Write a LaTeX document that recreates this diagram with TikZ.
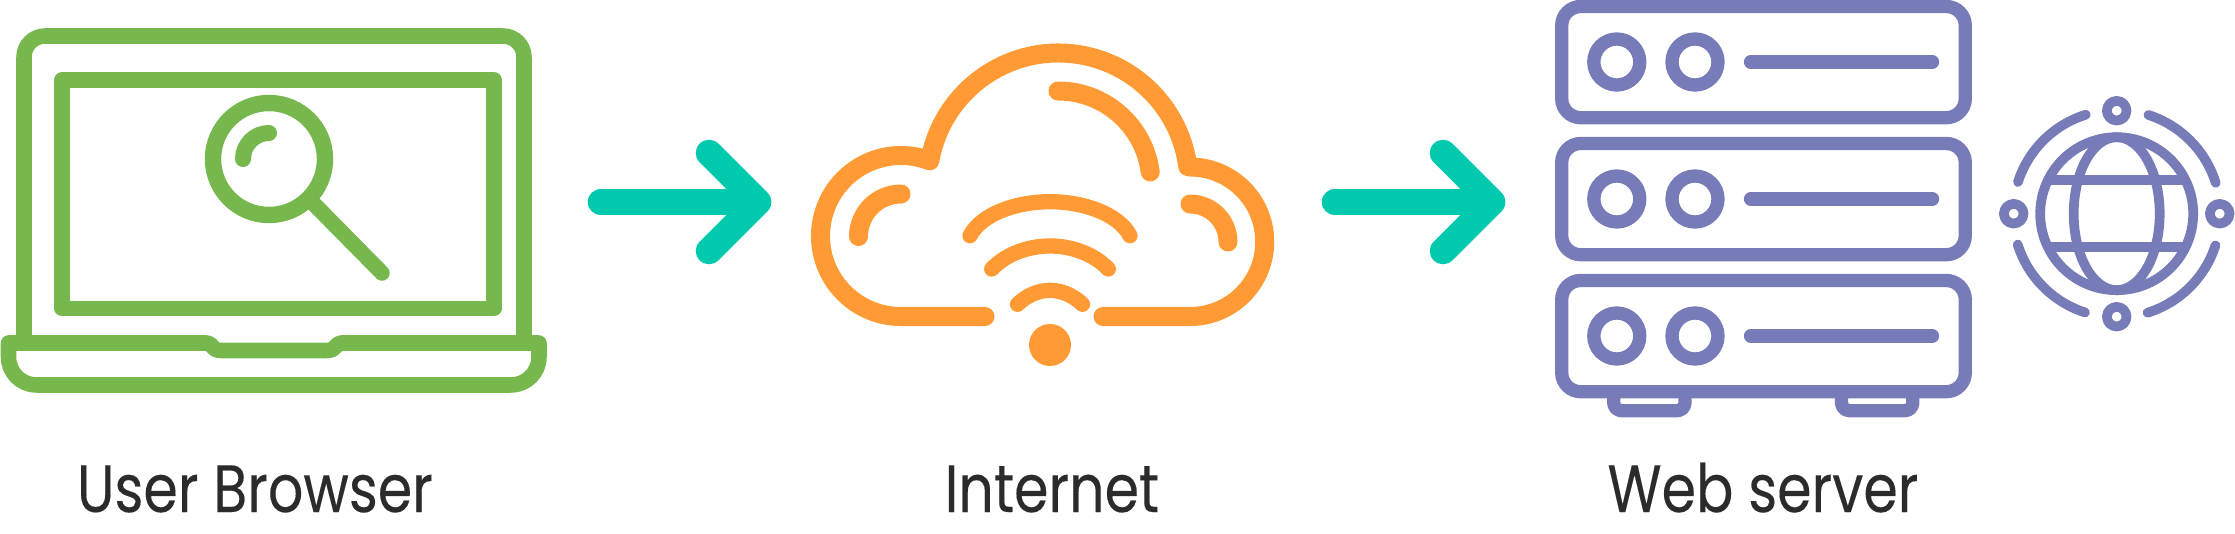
\documentclass[tikz,border=0pt]{standalone}
\usepackage{fontspec}
\setmainfont[FakeStretch=0.83,FakeBold=0.2]{Poppins}
\definecolor{laptopgreen}{HTML}{76B84D}
\definecolor{cloudorange}{HTML}{FF9A35}
\definecolor{flowteal}{HTML}{00C9AE}
\definecolor{serverblue}{HTML}{777CB9}
\definecolor{captiongray}{HTML}{2B2B2B}
\begin{document}
\begin{tikzpicture}[
    x=0.01cm,
    y=0.01cm,
    line cap=round,
    line join=round,
    laptop/.style={draw=laptopgreen, line width=0.155cm},
    cloud/.style={draw=cloudorange, line width=0.19cm},
    wifi/.style={draw=cloudorange, line width=0.153cm},
    flow/.style={draw=flowteal, line width=0.265cm},
    server/.style={draw=serverblue, line width=0.133cm},
    globe/.style={draw=serverblue, line width=0.097cm},
    caption/.style={font=\fontsize{19}{23}\selectfont, text=captiongray, anchor=base, inner sep=0pt}
]
\useasboundingbox (0,0) rectangle (2235,533);

\draw[laptop, rounded corners=0.21cm] (24,190) -- (24,497) -- (524,497) -- (524,190);
\draw[laptop] (8.5,190) -- (8.5,176) arc[start angle=180, end angle=270, radius=28] -- (511,148)
    arc[start angle=270, end angle=360, radius=28] -- (539,190) -- (341,190)
    .. controls (335,190) and (337,182.5) .. (327,182.5) -- (221,182.5)
    .. controls (211,182.5) and (213,190) .. (207,190) -- cycle;
\draw[laptop] (62,224.5) rectangle (494,453);
\draw[laptop, line width=0.164cm] (269,374) circle (56);
\draw[laptop] (309,334) -- (382,260);
\draw[laptop, line width=0.16cm] (269,400) arc[start angle=90, end angle=180, radius=26];

\coordinate (flowAstart) at (601,331);
\coordinate (flowAtip) at (758,331);
\draw[flow] (flowAstart) -- (flowAtip);
\draw[flow] (flowAtip) ++(-49,49) -- (flowAtip) -- ++(-49,-49);

\draw[cloud] (985,216.5) -- (901,216.5) arc[start angle=270, end angle=69, radius=80.5]
    arc[start angle=170, end angle=7.5, radius=130.5] -- (1190,366)
    arc[start angle=90, end angle=-90, radius=74.75] -- (1103,216.5);
\draw[cloud] (1058,442) arc[start angle=90, end angle=7.4, radius=93];
\draw[cloud] (901,339) arc[start angle=90, end angle=180, radius=42.5];
\draw[cloud] (1190,329) arc[start angle=90, end angle=0, radius=38];
\draw[wifi] (970,297.3) .. controls (982,320) and (1018,331.3) .. (1050,331.3)
    .. controls (1082,331.3) and (1118,320) .. (1130,297.3);
\draw[wifi] (991.7,264) .. controls (1006,279) and (1028,287) .. (1050,287)
    .. controls (1072,287) and (1094,279) .. (1108.3,264);
\draw[wifi] (1017.5,228.7) .. controls (1026,237) and (1038,242.7) .. (1050,242.7)
    .. controls (1062,242.7) and (1074,237) .. (1082.5,228.7);
\fill[cloudorange] (1050,188) circle (21);

\coordinate (flowBstart) at (1335,331);
\coordinate (flowBtip) at (1492,331);
\draw[flow] (flowBstart) -- (flowBtip);
\draw[flow] (flowBtip) ++(-49,49) -- (flowBtip) -- ++(-49,-49);

\foreach \row in {0,137,274} {
    \begin{scope}[shift={(0,-\row)}]
        \draw[server, rounded corners=0.19cm] (1561.7,415.3) rectangle (1965.3,526.5);
        \draw[server] (1616.8,471) circle (23);
        \draw[server] (1695,471) circle (23);
        \draw[server] (1750.5,471) -- (1932.5,471);
    \end{scope}
}
\foreach \x in {1613.7,1841.5} {
    \draw[server, rounded corners=0.08cm] (\x,141) -- (\x,122.3) -- ({\x+71.3},122.3) -- ({\x+71.3},141);
}

\coordinate (globeMid) at (2116.7,319.3);
\begin{scope}[shift={(globeMid)}]
    \draw[globe] (0,0) circle (76.5);
    \draw[globe] (0,0) ellipse [x radius=43, y radius=76.5];
    \draw[globe, line cap=butt] (-68.8,33.5) -- (68.8,33.5);
    \draw[globe, line cap=butt] (-68.8,-33.5) -- (68.8,-33.5);
    \foreach \a in {0,90,180,270} {
        \draw[globe] (\a:103) circle (9.8);
        \draw[globe] ({\a+17.3}:103.7) arc[start angle=\a+17.3, delta angle=54.9, radius=103.7];
    }
\end{scope}

\node[caption] (browserLabel) at (255,21) {User Browser};
\node[caption] (internetLabel) at (1052,21) {Internet};
\node[caption] (serverLabel) at (1763,21) {Web server};
\end{tikzpicture}
\end{document}
